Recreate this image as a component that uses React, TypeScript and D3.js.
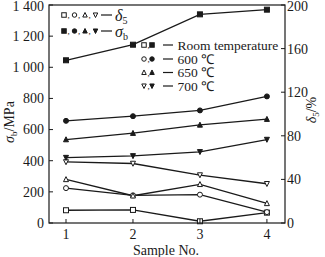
import React from "react";
import * as d3 from "d3";

const samples = [1, 2, 3, 4];
const seriesNames = ["Room temperature", "600 ℃", "650 ℃", "700 ℃"];
const markerShapes = ["square", "circle", "triangle", "triangleDown"];
const sigmaRT = [1045, 1145, 1340, 1370];
const sigma600 = [656, 686, 723, 813];
const sigma650 = [536, 577, 630, 667];
const sigma700 = [420, 431, 457, 536];
const deltaRT = [11.7, 12, 1.6, 9.5];
const delta600 = [32, 25.4, 26, 10];
const delta650 = [40, 25, 35.5, 18];
const delta700 = [56, 54.6, 44, 36];
const leftTicks = [0, 200, 400, 600, 800, 1000, 1200, 1400];
const leftTickLabels = ["0", "200", "400", "600", "800", "1 000", "1 200", "1 400"];
const rightTicks = [0, 40, 80, 120, 160, 200];

const W = 325, H = 257;
const L = 49, R = 285, T = 5, B = 223;
const FONT = "Liberation Serif";
const INK = "#1a1a1a";

function Marker({ shape, x, y, filled, s = 5 }: { shape: string; x: number; y: number; filled: boolean; s?: number }) {
  const fill = filled ? INK : "#fff";
  const common = { fill, stroke: INK, strokeWidth: 1 };
  if (shape === "square") return <rect x={x - s / 2} y={y - s / 2} width={s} height={s} {...common} />;
  if (shape === "circle") return <circle cx={x} cy={y} r={s / 2} {...common} />;
  const h = s * 0.9;
  if (shape === "triangle")
    return <path d={`M${x},${y - h / 2 - 0.5}L${x + s / 2},${y + h / 2}L${x - s / 2},${y + h / 2}Z`} {...common} />;
  return <path d={`M${x},${y + h / 2 + 0.5}L${x + s / 2},${y - h / 2}L${x - s / 2},${y - h / 2}Z`} {...common} />;
}

export default function App() {
  const x = d3.scaleLinear().domain([0.746, 4.27]).range([L, R]);
  const yL = d3.scaleLinear().domain([0, 1400]).range([B, T]);
  const yR = d3.scaleLinear().domain([0, 200]).range([B, T]);
  const sig = [sigmaRT, sigma600, sigma650, sigma700];
  const del = [deltaRT, delta600, delta650, delta700];
  const lineL = d3.line<number>().x((_, i) => x(samples[i])).y((d) => yL(d));
  const lineR = d3.line<number>().x((_, i) => x(samples[i])).y((d) => yR(d));

  const legendRows = [45, 59, 72.5, 86];
  const ts = { fontFamily: FONT };

  return (
    <svg width={W} height={H} style={{ position: "absolute", left: 0, top: 0, background: "#fff", fontFamily: FONT }}>
      <rect x={0} y={0} width={W} height={H} fill="#fff" />
      {del.map((d, i) => (
        <path key={"dl" + i} d={lineR(d) || ""} fill="none" stroke={INK} strokeWidth={1.3} />
      ))}
      {sig.map((d, i) => (
        <path key={"sl" + i} d={lineL(d) || ""} fill="none" stroke={INK} strokeWidth={1.3} />
      ))}
      {del.map((d, i) =>
        d.map((v, j) => <Marker key={`dm${i}-${j}`} shape={markerShapes[i]} x={x(samples[j])} y={yR(v)} filled={false} />)
      )}
      {sig.map((d, i) =>
        d.map((v, j) => <Marker key={`sm${i}-${j}`} shape={markerShapes[i]} x={x(samples[j])} y={yL(v)} filled={true} />)
      )}
      <rect x={L} y={T} width={R - L} height={B - T} fill="none" stroke={INK} strokeWidth={1.2} />
      {leftTicks.map((t, i) => (
        <g key={"lt" + t}>
          <line x1={L} x2={L + 4} y1={yL(t)} y2={yL(t)} stroke={INK} strokeWidth={1} />
          <text style={ts} x={L - 5} y={Math.max(yL(t), 6)} dy="0.35em" textAnchor="end" fontSize={14} fill={INK}>
            {leftTickLabels[i]}
          </text>
        </g>
      ))}
      {rightTicks.map((t) => (
        <g key={"rt" + t}>
          <line x1={R} x2={R - 4} y1={yR(t)} y2={yR(t)} stroke={INK} strokeWidth={1} />
          <text style={ts} x={R + 2} y={Math.max(yR(t), 6)} dy="0.35em" textAnchor="start" fontSize={14} fill={INK}>
            {t}
          </text>
        </g>
      ))}
      {samples.map((s) => (
        <g key={"bt" + s}>
          <line x1={x(s)} x2={x(s)} y1={B} y2={B - 4} stroke={INK} strokeWidth={1} />
          <text style={ts} x={x(s)} y={B + 11} dy="0.35em" textAnchor="middle" fontSize={14} fill={INK}>
            {s}
          </text>
        </g>
      ))}
      <text style={ts} x={166} y={250} dy="0.35em" textAnchor="middle" fontSize={14} fill={INK}>
        Sample No.
      </text>
      <text style={ts} transform={`translate(14,122) rotate(-90)`} textAnchor="middle" fontSize={14} fill={INK}>
        <tspan fontStyle="italic">σ</tspan>
        <tspan fontSize={9} dy={3}>b</tspan>
        <tspan dy={-3}>/MPa</tspan>
      </text>
      <text style={ts} transform={`translate(316,110) rotate(-90)`} textAnchor="middle" fontSize={14} fill={INK}>
        <tspan fontStyle="italic">δ</tspan>
        <tspan fontSize={9} dy={3}>5</tspan>
        <tspan dy={-3}>/%</tspan>
      </text>
      {[0, 1].map((row) => {
        const yy = row === 0 ? 15 : 31;
        return (
          <g key={"lg1" + row}>
            {markerShapes.map((sh, k) => (
              <g key={sh}>
                <Marker shape={sh} x={64 + k * 10.5} y={yy} filled={row === 1} s={4.5} />
                {k < 3 && (
                  <text style={ts} x={67.5 + k * 10.5} y={yy + 3} fontSize={9} fill={INK}>
                    ,
                  </text>
                )}
              </g>
            ))}
            <line x1={101} x2={112} y1={yy} y2={yy} stroke={INK} strokeWidth={1.2} />
            <text style={ts} x={115} y={yy} dy="0.35em" fontSize={16} fill={INK}>
              <tspan fontStyle="italic">{row === 0 ? "δ" : "σ"}</tspan>
              <tspan fontSize={10} dy={3}>{row === 0 ? "5" : "b"}</tspan>
            </text>
          </g>
        );
      })}
      {seriesNames.map((name, i) => {
        const yy = legendRows[i];
        return (
          <g key={"lg2" + i}>
            <Marker shape={markerShapes[i]} x={144} y={yy} filled={false} s={4.5} />
            <text style={ts} x={147.5} y={yy + 3} fontSize={9} fill={INK}>
              ,
            </text>
            <Marker shape={markerShapes[i]} x={152} y={yy} filled={true} s={4.5} />
            <line x1={163} x2={173} y1={yy} y2={yy} stroke={INK} strokeWidth={1.2} />
            <text style={ts} x={177.5} y={yy} dy="0.35em" fontSize={13.5} fill={INK}>
              {name}
            </text>
          </g>
        );
      })}
    </svg>
  );
}
